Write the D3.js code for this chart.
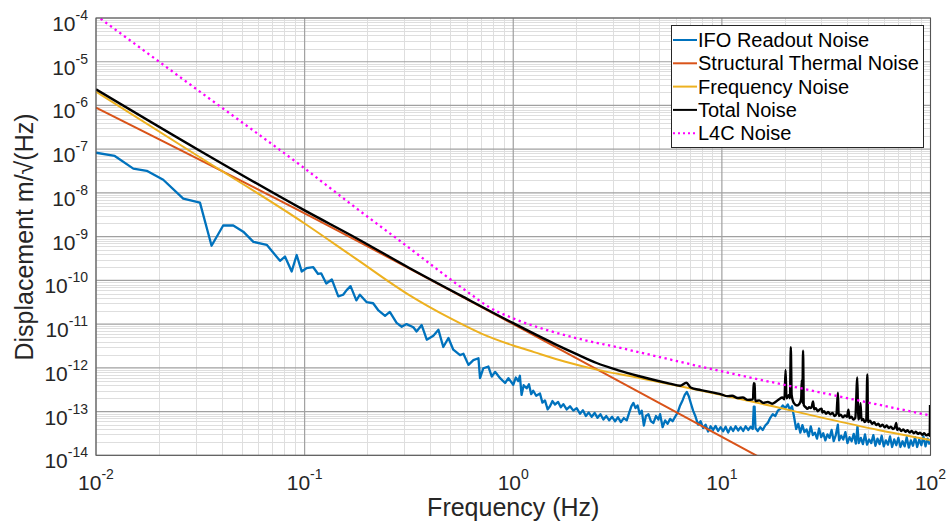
<!DOCTYPE html>
<html><head><meta charset="utf-8">
<script src="https://cdn.jsdelivr.net/npm/d3@7/dist/d3.min.js"></script>
<style>
body{margin:0;background:#fff;}
svg{display:block;font-family:"Liberation Sans",Arial,Helvetica,sans-serif;}
</style></head><body>
<svg id="chart" width="949" height="527"></svg>
<script>
// Frequency axis and displacement axis ranges, tick exponents
const xTickExponents = [-2, -1, 0, 1, 2];
const yTickExponents = [-14, -13, -12, -11, -10, -9, -8, -7, -6, -5, -4];

const seriesNames = ["IFO Readout Noise", "Structural Thermal Noise", "Frequency Noise", "Total Noise", "L4C Noise"];
const seriesColors = ["#0072BD", "#D95319", "#EDB120", "#000000", "#FF00FF"];

// [frequency (Hz), displacement (m/sqrt(Hz))]
const ifoReadout = [
[0.0100,8.3e-8],[0.0123,7.0e-8],[0.0151,3.6e-8],[0.0175,3.2e-8],[0.0210,2.0e-8],[0.0262,7.4e-9],[0.0315,6.0e-9],
[0.0358,6.2e-10],[0.0407,1.8e-9],[0.0455,1.8e-9],[0.0508,1.3e-9],[0.0568,7.6e-10],[0.0658,6.5e-10],[0.0762,2.8e-10],
[0.0805,3.5e-10],[0.0867,1.6e-10],[0.0916,3.8e-10],[0.0968,1.6e-10],[0.102,1.9e-10],[0.110,2.0e-10],[0.116,1.4e-10],
[0.120,1.45e-10],[0.127,8.5e-11],[0.135,1.05e-10],[0.145,4.3e-11],[0.153,4.7e-11],[0.159,6.0e-11],[0.166,7.4e-11],
[0.177,3.5e-11],[0.184,4.7e-11],[0.198,3.2e-11],[0.213,3.0e-11],[0.225,2.1e-11],[0.243,1.55e-11],[0.256,1.9e-11],
[0.276,1.07e-11],[0.292,8.7e-12],[0.308,1.0e-11],[0.332,8.5e-12],[0.344,6.8e-12],[0.364,9.5e-12],[0.385,4.4e-12],
[0.414,5.4e-12],[0.438,7.4e-12],[0.462,3.0e-12],[0.489,4.8e-12],[0.516,2.6e-12],[0.556,1.95e-12],[0.577,2.1e-12],
[0.610,1.17e-12],[0.644,1.5e-12],[0.681,1.66e-12],[0.693,5.8e-13],[0.719,9.8e-13],[0.760,1.07e-12],[0.789,6.3e-13],
[0.818,8.1e-13],[0.865,5.8e-13],[0.914,4.5e-13],[0.948,5.8e-13],
[1.00,4.1e-13],[1.028,6.0e-13],[1.057,5.0e-13],[1.076,6.6e-13],[1.096,2.4e-13],[1.122,4.0e-13],[1.159,3.4e-13],
[1.189,4.2e-13],[1.219,2.5e-13],[1.247,3.0e-13],[1.288,2.3e-13],[1.343,2.6e-13],[1.380,1.6e-13],[1.419,1.8e-13],
[1.462,1.12e-13],[1.50,1.32e-13],[1.542,1.74e-13],[1.585,1.45e-13],[1.641,1.66e-13],[1.690,1.26e-13],[1.738,1.48e-13],
[1.803,1.12e-13],[1.871,1.32e-13],[1.941,1.05e-13],[2.014,1.20e-13],[2.089,8.9e-14],[2.158,1.07e-13],[2.228,7.9e-14],
[2.301,9.5e-14],[2.377,7.6e-14],[2.455,9.3e-14],[2.535,7.2e-14],[2.618,8.7e-14],[2.704,6.6e-14],[2.793,7.9e-14],
[2.884,6.3e-14],[2.979,7.6e-14],[3.076,6.0e-14],[3.177,7.4e-14],[3.281,5.75e-14],[3.388,7.1e-14],[3.499,6.3e-14],
[3.597,9.5e-14],[3.681,1.32e-13],[3.767,1.58e-13],[3.855,1.20e-13],[3.945,1.38e-13],[4.036,8.9e-14],[4.130,1.05e-13],
[4.227,4.8e-14],[4.325,7.9e-14],[4.446,8.7e-14],[4.571,6.0e-14],[4.699,5.5e-14],[4.831,7.9e-14],[4.966,6.6e-14],
[5.058,8.7e-14],[5.200,4.4e-14],[5.346,6.3e-14],[5.495,5.25e-14],[5.649,6.8e-14],[5.808,6.0e-14],[5.970,7.6e-14],
[6.138,9.5e-14],[6.310,1.38e-13],[6.486,1.82e-13],[6.637,2.4e-13],[6.792,2.8e-13],[6.950,2.2e-13],[7.112,1.51e-13],
[7.278,1.05e-13],[7.482,7.6e-14],[7.691,5.0e-14],[7.907,6.0e-14],[8.128,4.2e-14],[8.356,5.0e-14],[8.590,3.5e-14],
[8.831,4.6e-14],[9.078,3.8e-14],[9.333,4.7e-14],[9.594,3.6e-14],[9.863,4.4e-14],[10.14,3.55e-14],[10.42,4.5e-14],
[10.72,3.3e-14],[11.02,4.4e-14],[11.32,3.6e-14],[11.64,4.6e-14],[11.97,3.7e-14],[12.30,4.4e-14],[12.65,3.6e-14],
[13.00,4.6e-14],[13.37,3.8e-14],[13.74,4.5e-14],[14.06,4.0e-14],[14.22,1.3e-13],[14.35,1.3e-13],[14.49,4.2e-14],
[14.86,3.6e-14],[15.28,4.4e-14],[15.70,3.8e-14],[16.14,4.8e-14],[16.60,5.5e-14],[17.06,7.2e-14],[17.54,8.7e-14],
[18.03,7.9e-14],[18.54,1.05e-13],[19.05,1.15e-13],[19.59,1.38e-13],[20.14,1.20e-13],[20.70,1.45e-13],[21.18,1.10e-13],
[21.68,1.32e-13],[22.18,7.6e-14],[22.70,4.0e-14],[23.23,5.25e-14],[23.77,3.3e-14],[24.32,4.9e-14],[24.89,3.4e-14],
[25.47,3.9e-14],[26.06,2.7e-14],[26.67,4.6e-14],[27.29,2.9e-14],[27.93,3.3e-14],[28.58,2.4e-14],[29.24,4.1e-14],
[29.92,2.6e-14],[30.62,3.2e-14],[31.33,2.2e-14],[32.06,3.0e-14],[32.81,2.5e-14],[33.57,3.8e-14],[34.36,2.1e-14],
[35.16,2.9e-14],[35.97,5.0e-14],[36.48,2.2e-14],[37.33,2.8e-14],[38.19,2.3e-14],[39.08,3.4e-14],[39.99,1.9e-14],
[40.93,2.6e-14],[41.88,2.1e-14],[42.85,3.1e-14],[43.85,1.85e-14],[44.67,4.6e-14],[45.29,1.9e-14],[46.34,2.5e-14],
[47.42,1.8e-14],[48.53,3.0e-14],[49.66,1.75e-14],[50.82,2.3e-14],[52.00,1.9e-14],[53.21,2.9e-14],[54.45,1.65e-14],
[55.72,2.4e-14],[57.02,1.8e-14],[58.34,2.8e-14],[59.70,1.6e-14],[61.09,2.2e-14],[62.52,1.75e-14],[63.97,2.7e-14],
[65.46,1.55e-14],[66.99,2.3e-14],[68.55,1.7e-14],[70.15,2.5e-14],[71.78,1.55e-14],[73.45,2.1e-14],[75.16,1.6e-14],
[76.91,2.6e-14],[78.70,1.5e-14],[80.54,2.2e-14],[82.41,1.65e-14],[84.33,2.6e-14],[86.30,1.55e-14],[88.31,2.3e-14],
[90.36,1.7e-14],[92.47,2.7e-14],[94.62,1.6e-14],[96.83,2.4e-14],[99.08,1.75e-14]
];

const structuralThermal = [[0.01,8.9e-7],[0.1,3.4e-9],[1,1.0e-11],[10,2.63e-14],[100,7.1e-17]];

const frequencyNoise = [
[0.01,2.07e-6],[0.0316,6.46e-8],[0.1,2.0e-9],[0.178,3.02e-10],[0.316,4.68e-11],[0.501,1.35e-11],[0.708,6.0e-12],
[1.0,3.24e-12],[1.259,2.29e-12],[1.778,1.38e-12],[2.512,9.1e-13],[3.98,5.9e-13],[6.31,3.8e-13],[10,2.4e-13],
[17.8,1.3e-13],[31.6,6.9e-14],[56.2,3.8e-14],[100,2.24e-14]
];

const totalNoise = [
[0.01,2.34e-6],[0.0316,9.1e-8],[0.1,3.98e-9],[0.178,9.1e-10],[0.316,1.95e-10],[0.562,4.47e-11],[1.0,1.05e-11],
[1.585,3.5e-12],[2.0,2.09e-12],[2.51,1.29e-12],[3.16,8.9e-13],[3.98,6.5e-13],[5.62,4.37e-13],[6.31,3.89e-13],[6.76,4.57e-13],[7.08,3.55e-13],
[7.94,3.09e-13],[10.0,2.45e-13],[10.6,2.25e-13],[11.2,2.3e-13],[11.9,2.05e-13],[12.6,2.1e-13],[13.3,1.85e-13],
[14.1,1.9e-13],[14.2,4.47e-13],[14.35,4.37e-13],[14.45,1.74e-13],[15.1,1.8e-13],[15.8,1.58e-13],[16.6,1.66e-13],
[17.4,1.51e-13],[18.2,1.70e-13],[18.8,1.91e-13],[19.5,2.09e-13],[19.95,1.91e-13],
[20.2,8.9e-13],[20.4,2.0e-13],[21.0,2.40e-13],[21.2,2.0e-13],[21.4,2.95e-12],[21.6,2.40e-13],[22.1,1.58e-13],
[22.9,1.38e-13],[23.55,1.51e-13],[24.0,2.0e-13],[24.15,5.25e-13],[24.3,1.58e-13],[24.5,2.45e-12],[24.7,1.41e-13],
[25.2,1.26e-13],[25.7,1.15e-13],[26.2,1.26e-13],[26.6,1.2e-13],[27.0,1.32e-13],[27.35,1.70e-13],[27.7,1.12e-13],
[28.2,1.2e-13],[28.8,1.02e-13],[29.4,1.12e-13],[30.1,1.17e-13],[30.3,9.55e-14],[30.9,1.02e-13],[31.6,8.9e-14],
[32.3,9.8e-14],[33.1,8.7e-14],[33.9,9.3e-14],[34.7,7.94e-14],[35.4,8.7e-14],[36.0,2.69e-13],[36.3,7.94e-14],
[37.1,8.5e-14],[38.0,7.41e-14],[38.9,8.1e-14],[39.8,7.6e-14],[40.4,1.10e-13],[40.9,7.08e-14],[41.8,7.6e-14],
[42.7,6.61e-14],[43.6,7.2e-14],[44.6,6.03e-13],[45.0,6.61e-14],[45.6,7.2e-14],[46.2,1.55e-13],[46.7,6.31e-14],
[47.5,6.8e-14],[48.4,5.75e-14],[49.2,6.3e-14],[49.8,7.08e-13],[50.2,5.75e-14],[51.3,6.2e-14],[52.5,5.25e-14],
[53.7,5.7e-14],[55.0,4.9e-14],[56.2,5.25e-14],[57.5,4.6e-14],[58.9,5.0e-14],[60.3,4.37e-14],[61.7,4.8e-14],
[63.1,4.2e-14],[64.6,4.5e-14],[66.1,4.0e-14],[67.6,4.4e-14],[68.5,5.5e-14],[69.2,3.8e-14],[70.8,4.1e-14],
[72.4,3.6e-14],[74.1,3.9e-14],[75.9,3.45e-14],[77.6,3.75e-14],[79.4,3.3e-14],[81.3,3.6e-14],[83.2,3.2e-14],
[85.1,3.45e-14],[87.1,3.1e-14],[89.1,3.3e-14],[91.2,2.95e-14],[93.3,3.2e-14],[95.5,2.85e-14],[97.7,3.05e-14],
[99.1,2.8e-14],[99.5,1.41e-13]
];

const l4cNoise = [
[0.01,1.15e-4],[0.0316,2.04e-6],[0.1,3.63e-8],[0.178,4.37e-9],[0.316,5.6e-10],[0.501,1.05e-10],[0.631,4.68e-11],
[0.759,2.51e-11],[1.0,1.35e-11],[1.413,7.6e-12],[2.0,4.8e-12],[3.16,2.95e-12],[10,8.3e-13],[31.6,2.57e-13],[100,8.1e-14]
];

const plot = {left: 96, right: 930.5, top: 18, bottom: 455.3};
const svg = d3.select("#chart");

const x = d3.scaleLog().domain([Math.pow(10, xTickExponents[0]), Math.pow(10, xTickExponents[xTickExponents.length - 1])])
  .range([plot.left, plot.right]);
const y = d3.scaleLog().domain([Math.pow(10, yTickExponents[0]), Math.pow(10, yTickExponents[yTickExponents.length - 1])])
  .range([plot.bottom, plot.top]);

svg.append("defs").append("clipPath").attr("id", "plotClip")
  .append("rect").attr("x", plot.left).attr("y", plot.top)
  .attr("width", plot.right - plot.left).attr("height", plot.bottom - plot.top);

// grid: minor lines at 2..9 of each decade, major lines at each decade
const grid = svg.append("g");
const xMinor = [], yMinor = [];
xTickExponents.slice(0, -1).forEach(e => { for (let k = 2; k <= 9; k++) xMinor.push(k * Math.pow(10, e)); });
yTickExponents.slice(0, -1).forEach(e => { for (let k = 2; k <= 9; k++) yMinor.push(k * Math.pow(10, e)); });
grid.selectAll(".xm").data(xMinor).enter().append("line")
  .attr("x1", d => Math.round(x(d)) + 0.5).attr("x2", d => Math.round(x(d)) + 0.5)
  .attr("y1", plot.top).attr("y2", plot.bottom).attr("stroke", "#dedede").attr("stroke-width", 1);
grid.selectAll(".ym").data(yMinor).enter().append("line")
  .attr("y1", d => Math.round(y(d)) + 0.5).attr("y2", d => Math.round(y(d)) + 0.5)
  .attr("x1", plot.left).attr("x2", plot.right).attr("stroke", "#dedede").attr("stroke-width", 1);
grid.selectAll(".xM").data(xTickExponents).enter().append("line")
  .attr("x1", d => x(Math.pow(10, d))).attr("x2", d => x(Math.pow(10, d)))
  .attr("y1", plot.top).attr("y2", plot.bottom).attr("stroke", "#a0a0a0").attr("stroke-width", 1.2);
grid.selectAll(".yM").data(yTickExponents).enter().append("line")
  .attr("y1", d => y(Math.pow(10, d))).attr("y2", d => y(Math.pow(10, d)))
  .attr("x1", plot.left).attr("x2", plot.right).attr("stroke", "#a0a0a0").attr("stroke-width", 1.2);

// noise curves
const curves = svg.append("g").attr("clip-path", "url(#plotClip)");
const lineLin = d3.line().x(d => x(d[0])).y(d => y(d[1]));
const lineSmooth = d3.line().x(d => x(d[0])).y(d => y(d[1])).curve(d3.curveMonotoneX);

curves.append("path").datum(ifoReadout).attr("d", lineLin)
  .attr("fill", "none").attr("stroke", seriesColors[0]).attr("stroke-width", 2.3).attr("stroke-linejoin", "round");
curves.append("path").datum(structuralThermal).attr("d", lineSmooth)
  .attr("fill", "none").attr("stroke", seriesColors[1]).attr("stroke-width", 2);
curves.append("path").datum(frequencyNoise).attr("d", lineSmooth)
  .attr("fill", "none").attr("stroke", seriesColors[2]).attr("stroke-width", 2);
curves.append("path").datum(totalNoise).attr("d", lineSmooth)
  .attr("fill", "none").attr("stroke", seriesColors[3]).attr("stroke-width", 2.4).attr("stroke-linejoin", "round");
curves.append("path").datum(l4cNoise).attr("d", lineSmooth)
  .attr("fill", "none").attr("stroke", seriesColors[4]).attr("stroke-width", 2.3)
  .attr("stroke-dasharray", "2.3,3.5");

// axes box
svg.append("rect").attr("x", plot.left).attr("y", plot.top)
  .attr("width", plot.right - plot.left).attr("height", plot.bottom - plot.top)
  .attr("fill", "none").attr("stroke", "#555").attr("stroke-width", 1);

// tick labels
const xLabels = svg.append("g").attr("fill", "#262626");
xTickExponents.forEach(e => {
  const t = xLabels.append("text").attr("x", x(Math.pow(10, e))).attr("y", 490)
    .attr("text-anchor", "middle").attr("font-size", 21);
  t.append("tspan").text("10");
  t.append("tspan").attr("font-size", 14).attr("dy", -11).text(String(e));
});
const yLabels = svg.append("g").attr("fill", "#262626");
yTickExponents.forEach(e => {
  const yy = y(Math.pow(10, e));
  const t = yLabels.append("text").attr("x", 88).attr("y", yy + 13)
    .attr("text-anchor", "end").attr("font-size", 21);
  t.append("tspan").text("10");
  t.append("tspan").attr("font-size", 14).attr("dy", -11).text(String(e));
});

// axis titles
svg.append("text").attr("x", (plot.left + plot.right) / 2).attr("y", 516)
  .attr("text-anchor", "middle").attr("font-size", 25).attr("fill", "#262626").text("Frequency (Hz)");
svg.append("text").attr("transform", "translate(33,237) rotate(-90)")
  .attr("text-anchor", "middle").attr("font-size", 25).attr("fill", "#262626").text("Displacement m/\u221A(Hz)");

// legend
const legend = svg.append("g");
legend.append("rect").attr("x", 671.5).attr("y", 25.5).attr("width", 252).attr("height", 122)
  .attr("fill", "#fff").attr("stroke", "#262626").attr("stroke-width", 1);
seriesNames.forEach((name, i) => {
  const cy = 40 + i * 23.3;
  const ln = legend.append("line").attr("x1", 673).attr("x2", 697).attr("y1", cy).attr("y2", cy)
    .attr("stroke", seriesColors[i]).attr("stroke-width", 2);
  if (i === 4) ln.attr("stroke-dasharray", "2,3");
  legend.append("text").attr("x", 698).attr("y", cy + 7).attr("font-size", 20)
    .attr("fill", "#000").text(name);
});
</script>
</body></html>
